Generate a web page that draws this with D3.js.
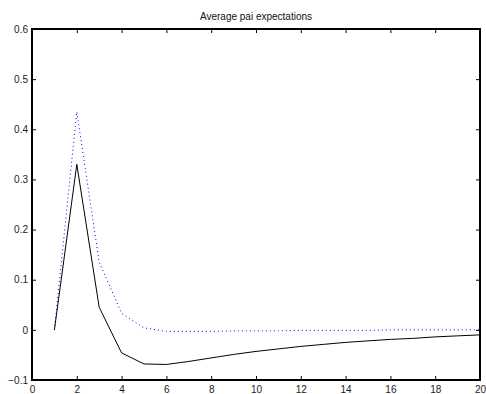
<!DOCTYPE html>
<html>
<head>
<meta charset="utf-8">
<script src="https://cdn.jsdelivr.net/npm/d3@7"></script>
<style>
  body { margin: 0; background: #fff; }
  svg { display: block; font-family: 'Liberation Sans', Arial, Helvetica, sans-serif; }
</style>
</head>
<body>
<script>
const title = 'Average pai expectations'
const periods = d3.range(1, 21)
const actual = [0, 0.33, 0.045, -0.046, -0.068, -0.069, -0.063, -0.056, -0.049, -0.043,
  -0.038, -0.033, -0.029, -0.025, -0.022, -0.019, -0.017, -0.014, -0.012, -0.010]
const expected = [0, 0.435, 0.135, 0.033, 0.004, -0.003, -0.003, -0.003, -0.002, -0.002,
  -0.002, -0.001, -0.001, -0.001, -0.001, 0, 0, 0, 0, 0]
const xTicks = d3.range(0, 21, 2)
const yTicks = [-0.1, 0, 0.1, 0.2, 0.3, 0.4, 0.5, 0.6]

const width = 486
const height = 394
const margin = { top: 29, right: 6, bottom: 14, left: 32 }

const svg = d3.select('body').append('svg')
  .attr('width', width)
  .attr('height', height)

const x = d3.scaleLinear().domain([0, 20]).range([margin.left, width - margin.right])
const y = d3.scaleLinear().domain([-0.1, 0.6]).range([height - margin.bottom, margin.top])

const tickLen = 4
const fmt = d => (d === 0 ? '0' : d3.format('.1f')(d))

// axes on all four sides, ticks pointing inward like matlab
const axes = [
  { ax: d3.axisBottom(x).tickValues(xTicks).tickSizeInner(-tickLen).tickSizeOuter(0).tickPadding(6).tickFormat(d3.format('d')), t: `translate(0,${y(-0.1)})` },
  { ax: d3.axisTop(x).tickValues(xTicks).tickSizeInner(-tickLen).tickSizeOuter(0).tickFormat(''), t: `translate(0,${y(0.6)})` },
  { ax: d3.axisLeft(y).tickValues(yTicks).tickSizeInner(-tickLen).tickSizeOuter(0).tickPadding(4).tickFormat(fmt), t: `translate(${x(0)},0)` },
  { ax: d3.axisRight(y).tickValues(yTicks).tickSizeInner(-tickLen).tickSizeOuter(0).tickFormat(''), t: `translate(${x(20)},0)` }
]
axes.forEach(a => {
  const g = svg.append('g').attr('transform', a.t).call(a.ax)
  g.select('.domain').remove()
  g.selectAll('.tick line').attr('stroke', '#000')
  g.selectAll('.tick text')
    .attr('fill', '#222')
    .style('font-size', '10px')
    .style('font-family', "'Liberation Sans', Arial, sans-serif")
})

svg.append('rect')
  .attr('x', x(0))
  .attr('y', y(0.6))
  .attr('width', x(20) - x(0))
  .attr('height', y(-0.1) - y(0.6))
  .attr('fill', 'none')
  .attr('stroke', '#000')
  .attr('stroke-width', 2)

const line = d3.line()
  .x((d, i) => x(periods[i]))
  .y(d => y(d))

svg.append('path')
  .datum(expected)
  .attr('d', line)
  .attr('fill', 'none')
  .attr('stroke', '#0000ff')
  .attr('stroke-width', 1)
  .attr('stroke-dasharray', '1,3')

svg.append('path')
  .datum(actual)
  .attr('d', line)
  .attr('fill', 'none')
  .attr('stroke', '#000')
  .attr('stroke-width', 1)

svg.append('text')
  .attr('x', (x(0) + x(20)) / 2)
  .attr('y', margin.top - 9)
  .attr('text-anchor', 'middle')
  .attr('fill', '#111')
  .style('font-size', '10px')
  .text(title)
</script>
</body>
</html>
